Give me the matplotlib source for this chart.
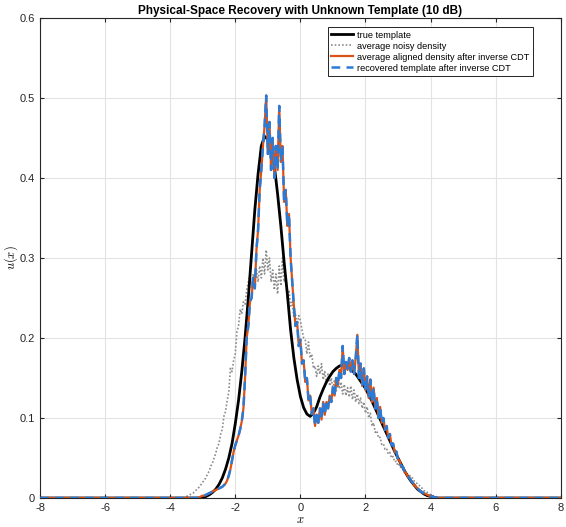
import numpy as np
import matplotlib
matplotlib.use("Agg")
import matplotlib.pyplot as plt

plt.rcParams['font.family'] = ['Liberation Sans', 'DejaVu Sans']
plt.rcParams['mathtext.fontset'] = 'cm'
plt.rcParams['axes.unicode_minus'] = False

# true template, sampled every 0.1 from x = -3.0
template_start = -3.0
template = [0.0, 0.002, 0.004, 0.007, 0.011, 0.017, 0.025, 0.036, 0.05, 0.068,
            0.093, 0.122, 0.158, 0.2, 0.25, 0.305, 0.36, 0.405, 0.44, 0.452,
            0.448, 0.435, 0.415, 0.38, 0.34, 0.295, 0.255, 0.21, 0.175, 0.148,
            0.127, 0.113, 0.105, 0.102, 0.106, 0.114, 0.126, 0.136, 0.145, 0.152,
            0.158, 0.162, 0.165, 0.166, 0.165, 0.163, 0.159, 0.155, 0.149, 0.143,
            0.137, 0.129, 0.121, 0.112, 0.103, 0.094, 0.085, 0.076, 0.067, 0.058,
            0.05, 0.042, 0.034, 0.027, 0.021, 0.016, 0.011, 0.008, 0.005, 0.003,
            0.002, 0.001, 0.0]

# average noisy density, sampled every 0.05 from x = -3.6
noisy_start = -3.6
noisy = [0.0, 0.001, 0.002, 0.003, 0.004, 0.005, 0.006, 0.008, 0.01, 0.012,
         0.014, 0.017, 0.02, 0.022, 0.026, 0.03, 0.034, 0.04, 0.044, 0.05,
         0.056, 0.064, 0.068, 0.08, 0.086, 0.102, 0.108, 0.122, 0.132, 0.162,
         0.158, 0.172, 0.18, 0.208, 0.215, 0.236, 0.23, 0.245, 0.242, 0.26,
         0.27, 0.278, 0.262, 0.28, 0.265, 0.285, 0.27, 0.29, 0.275, 0.3,
         0.28, 0.31, 0.285, 0.3, 0.27, 0.285, 0.26, 0.28, 0.255, 0.29,
         0.265, 0.3, 0.27, 0.275, 0.25, 0.26, 0.24, 0.245, 0.225, 0.23,
         0.215, 0.228, 0.222, 0.21, 0.2, 0.198, 0.18, 0.195, 0.175, 0.18,
         0.162, 0.165, 0.152, 0.165, 0.155, 0.168, 0.148, 0.158, 0.142, 0.155,
         0.14, 0.15, 0.136, 0.148, 0.133, 0.15, 0.136, 0.145, 0.13, 0.142,
         0.128, 0.138, 0.126, 0.14, 0.123, 0.135, 0.12, 0.13, 0.118, 0.125,
         0.112, 0.12, 0.106, 0.114, 0.1, 0.106, 0.09, 0.094, 0.082, 0.084,
         0.075, 0.076, 0.067, 0.068, 0.061, 0.062, 0.055, 0.057, 0.05, 0.052,
         0.045, 0.046, 0.04, 0.042, 0.036, 0.036, 0.032, 0.032, 0.029, 0.029,
         0.025, 0.025, 0.021, 0.02, 0.017, 0.016, 0.013, 0.012, 0.009, 0.009,
         0.007, 0.006, 0.004, 0.004, 0.002, 0.002, 0.001, 0.001, 0.0, 0.0]

# average aligned density after inverse CDT, sampled every 0.05 from x = -3.2
aligned_start = -3.2
aligned = [0.0, 0.0, 0.001, 0.002, 0.003, 0.003, 0.004, 0.005, 0.006, 0.007,
           0.008, 0.009, 0.01, 0.011, 0.012, 0.013, 0.014, 0.016, 0.018, 0.022,
           0.028, 0.036, 0.047, 0.058, 0.066, 0.072, 0.078, 0.086, 0.096, 0.112,
           0.15, 0.2, 0.215, 0.245, 0.25, 0.275, 0.262, 0.31, 0.335, 0.385,
           0.41, 0.44, 0.465, 0.503, 0.43, 0.47, 0.41, 0.45, 0.40, 0.44,
           0.41, 0.49, 0.42, 0.44, 0.37, 0.385, 0.34, 0.355, 0.30, 0.27,
           0.24, 0.215, 0.22, 0.19, 0.198, 0.168, 0.172, 0.145, 0.15, 0.122,
           0.128, 0.105, 0.112, 0.09, 0.104, 0.094, 0.112, 0.098, 0.12, 0.104,
           0.12, 0.112, 0.128, 0.12, 0.138, 0.128, 0.15, 0.14, 0.16, 0.15,
           0.19, 0.155, 0.17, 0.16, 0.175, 0.158, 0.172, 0.155, 0.175, 0.204,
           0.15, 0.168, 0.14, 0.162, 0.135, 0.152, 0.125, 0.148, 0.12, 0.138,
           0.112, 0.125, 0.1, 0.114, 0.094, 0.1, 0.085, 0.09, 0.075, 0.08,
           0.066, 0.068, 0.057, 0.058, 0.048, 0.047, 0.04, 0.039, 0.033, 0.031,
           0.027, 0.025, 0.022, 0.019, 0.016, 0.014, 0.012, 0.01, 0.008, 0.007,
           0.006, 0.005, 0.004, 0.003, 0.002, 0.002, 0.001, 0.001, 0.0, 0.0]

# recovered template after inverse CDT (follows the aligned density)
recovered_start = -3.2
recovered = list(aligned)

x_min, x_max = -8, 8


def series(start, step, vals):
    # pad with zeros out to the axis limits
    xs = start + step * np.arange(len(vals))
    xs = np.concatenate([[x_min], xs, [x_max]])
    ys = np.concatenate([[0.0], vals, [0.0]])
    return xs, ys


fig = plt.figure(figsize=(5.66, 5.27), dpi=100)
ax = fig.add_axes([0.0707, 0.055, 0.92, 0.911])

xt, yt = series(template_start, 0.1, template)
xn, yn = series(noisy_start, 0.05, noisy)
xa, ya = series(aligned_start, 0.05, aligned)
xr, yr = series(recovered_start, 0.05, recovered)

ax.plot(xt, yt, color='black', lw=2.0, label='true template', zorder=3)
ax.plot(xn, yn, color='#8c8c8c', lw=1.2, ls=(0, (1, 1.2)), label='average noisy density', zorder=2)
ax.plot(xa, ya, color='#D95319', lw=1.6, label='average aligned density after inverse CDT', zorder=4)
ax.plot(xr, yr, color='#2B7BD6', lw=1.8, ls=(0, (3.5, 2.5)), label='recovered template after inverse CDT', zorder=5)

ax.set_xlim(x_min, x_max)
ax.set_ylim(0, 0.6)
ax.set_xticks(np.arange(-8, 9, 2))
ax.set_yticks(np.arange(0, 0.61, 0.1))
ax.set_yticklabels(['0', '0.1', '0.2', '0.3', '0.4', '0.5', '0.6'])
ax.tick_params(direction='in', length=3, labelsize=8, top=True, right=True, colors='#262626')
ax.grid(True, color='#e3e3e3', lw=0.8)
ax.set_axisbelow(True)
for s in ax.spines.values():
    s.set_color('#262626')
    s.set_linewidth(0.8)

ax.set_xlabel('$x$', fontsize=9, labelpad=1)
ax.set_ylabel('$u(x)$', fontsize=9, va='center')
ax.yaxis.set_label_coords(-0.056, 0.5)
ax.set_title('Physical-Space Recovery with Unknown Template (10 dB)', fontsize=8.5, fontweight='bold', pad=3)

leg = ax.legend(loc='upper right', bbox_to_anchor=(0.955, 0.99), fontsize=6.6, frameon=True,
                fancybox=False, framealpha=1, edgecolor='black', borderpad=0.35,
                labelspacing=0.22, handlelength=2.4, handletextpad=0.4)
leg.get_frame().set_linewidth(0.6)

fig.savefig('out.png', dpi=100)
